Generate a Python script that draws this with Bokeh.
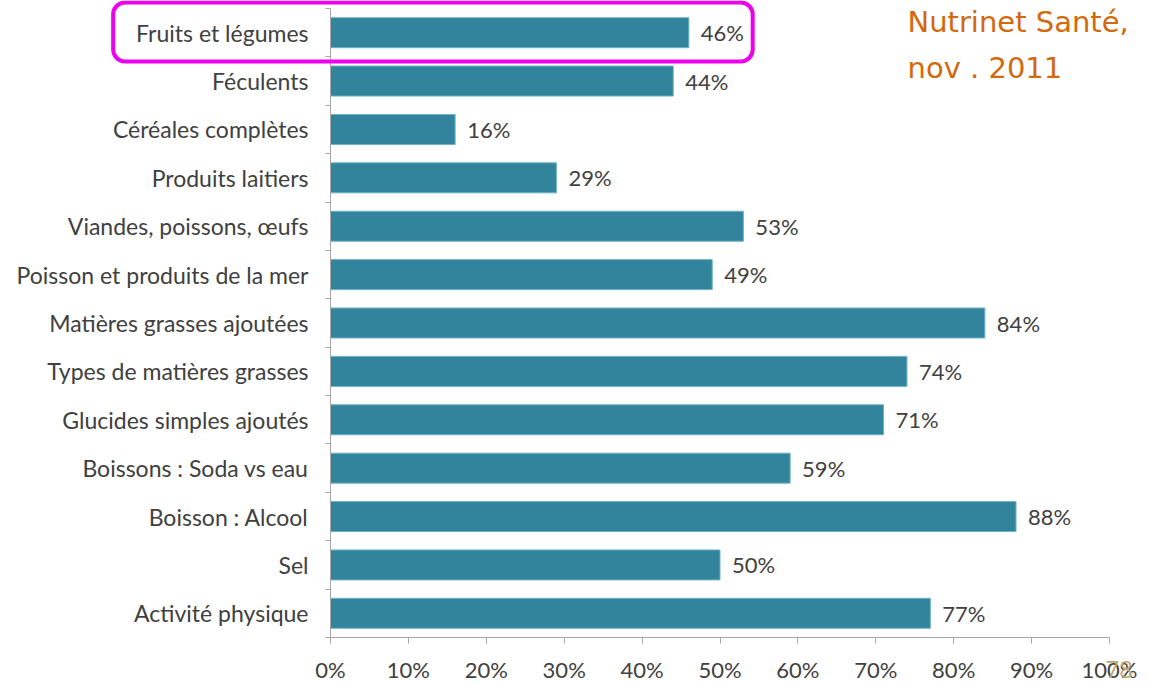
from bokeh.plotting import figure
from bokeh.models import (Range1d, FixedTicker, LinearAxis, Label, BoxAnnotation,
                          ColumnDataSource)
from bokeh.core.properties import value
from bokeh.embed import file_html
from bokeh.resources import INLINE

# Survey categories (top to bottom) and share of respondents (%)
categories = [
    "Fruits et légumes",
    "Féculents",
    "Céréales complètes",
    "Produits laitiers",
    "Viandes, poissons, œufs",
    "Poisson et produits de la mer",
    "Matières grasses ajoutées",
    "Types de matières grasses",
    "Glucides simples ajoutés",
    "Boissons : Soda vs eau",
    "Boisson : Alcool",
    "Sel",
    "Activité physique",
]
shares = [46, 44, 16, 29, 53, 49, 84, 74, 71, 59, 88, 50, 77]
x_ticks = [0, 10, 20, 30, 40, 50, 60, 70, 80, 90, 100]
x_tick_labels = [f"{t}%" for t in x_ticks]

FONT = "Lato"
TEXT_COLOR = "#404040"
AXIS_COLOR = "#A6A6A6"
BAR_COLOR = "#31849B"

n = len(categories)
centers = [i + 0.5 for i in range(n)]

src = ColumnDataSource(dict(
    y=centers,
    share=shares,
    label=[f"{v}%" for v in shares],
))

# The frame spans the whole page; axes sit at fixed data positions inside it
p = figure(
    width=1150, height=684,
    x_range=Range1d(-42.362, 105.263), y_range=Range1d(13.971, -0.1653),
    output_backend="svg", toolbar_location=None,
    x_axis_location=None, y_axis_location=None,
    min_border=0,
)
p.outline_line_color = None
p.xgrid.visible = False
p.ygrid.visible = False
p.background_fill_color = "white"
p.border_fill_color = "white"

p.hbar(y="y", left=0, right="share", height=0.62, source=src,
       fill_color=BAR_COLOR, line_color="#6FB3C6", line_width=1)

p.text(x="share", y="y", text="label", source=src,
       x_offset=12, text_baseline="middle", text_align="left",
       text_font=value(FONT), text_font_size="22px", text_color=TEXT_COLOR)

# Category axis: labels at row centres, small ticks at row boundaries
yaxis = LinearAxis(
    fixed_location=0,
    bounds=(0, n),
    ticker=FixedTicker(ticks=centers, minor_ticks=list(range(n + 1))),
    major_label_overrides={c: lab for c, lab in zip(centers, categories)},
    major_tick_in=0, major_tick_out=0,
    minor_tick_in=0, minor_tick_out=5,
    minor_tick_line_color=AXIS_COLOR,
    axis_line_color=AXIS_COLOR,
    major_label_standoff=17,
    major_label_text_font=FONT,
    major_label_text_font_size="23px",
    major_label_text_color=TEXT_COLOR,
)
p.add_layout(yaxis, "left")

xaxis = LinearAxis(
    fixed_location=n,
    bounds=(0, 100),
    ticker=FixedTicker(ticks=x_ticks),
    major_label_overrides={t: lab for t, lab in zip(x_ticks, x_tick_labels)},
    major_tick_in=0, major_tick_out=6,
    major_tick_line_color=AXIS_COLOR,
    minor_tick_out=0, minor_tick_in=0,
    axis_line_color=AXIS_COLOR,
    major_label_standoff=12,
    major_label_text_font=FONT,
    major_label_text_font_size="22px",
    major_label_text_color=TEXT_COLOR,
)
p.add_layout(xaxis, "below")

# Highlight around the first category
p.add_layout(BoxAnnotation(
    left=-27.9, right=54.2, top=-0.124, bottom=1.095,
    fill_alpha=0, line_color="#EE00EE", line_alpha=1.0, line_width=4,
    border_radius=12, level="overlay",
))

# Source note
for txt, yy in [("Nutrinet Santé,", 0.27), ("nov . 2011", 1.24)]:
    p.add_layout(Label(
        x=74.07, y=yy, text=txt,
        text_font="DejaVu Sans", text_font_size="29px",
        text_color="#D2690C", text_baseline="alphabetic",
    ))

# Page number
p.add_layout(Label(
    x=99.49, y=13.84, text="78",
    text_font="Open Sans", text_font_size="24px",
    text_color="#BBA878", text_baseline="bottom",
))

open("out.html", "w").write(file_html(p, INLINE))
